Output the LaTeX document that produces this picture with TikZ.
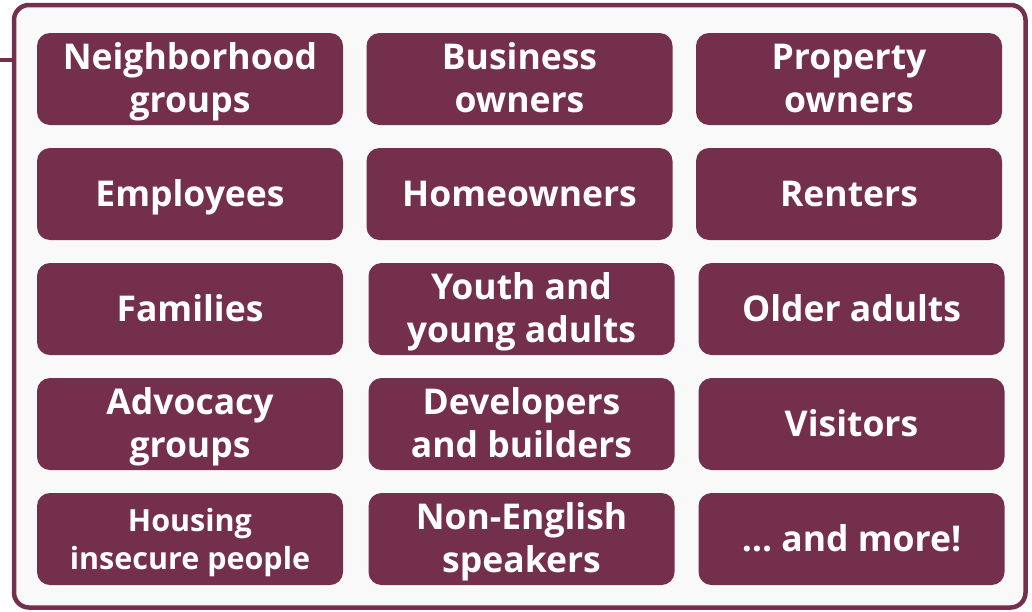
\documentclass[tikz,border=0pt]{standalone}
\usepackage{fontspec}
\setmainfont{Open Sans}
\definecolor{plum}{HTML}{732F4B}
\definecolor{panel}{HTML}{F9F9F9}
% centred lines, set a little lower inside the box
\newcommand\lift[1]{\raisebox{-3.5pt}[\height][\depth]{\begin{tabular}{@{}c@{}}#1\end{tabular}}}
\begin{document}
\begin{tikzpicture}[x=1pt,y=-1pt,
  group/.style={rectangle, rounded corners=13pt, fill=plum, text=white,
    minimum width=306pt, minimum height=92pt, inner sep=0pt,
    font=\bfseries\fontsize{35.5}{43}\selectfont},
  small/.style={font=\bfseries\fontsize{30.5}{38}\selectfont}]
\useasboundingbox[fill=white] (0,0) rectangle (1032,611);
% outer panel holding all groups
\node[rectangle, rounded corners=15pt, draw=plum, line width=4.5pt, fill=panel,
  minimum width=1011.5pt, minimum height=602.5pt, outer sep=0pt] (frame) at (519.75,306.25) {};
\coordinate (stub) at (0,60);
\draw[plum, line width=4.5pt] (stub) -- (stub -| frame.west);
% row 1
\node[group] (n1) at (190,79) {\lift{Neighborhood\\groups}};
\node[group] (n2) at (519.5,79) {\lift{Business\\owners}};
\node[group] (n3) at (849,79) {\lift{Property\\owners}};
% row 2
\node[group] (n4) at (190,194) {\lift{Employees}};
\node[group] (n5) at (519.5,194) {\lift{Homeowners}};
\node[group] (n6) at (849,194) {\lift{Renters}};
% row 3
\node[group] (n7) at (190,309) {\lift{Families}};
\node[group] (n8) at (521.5,309) {\lift{Youth and\\young adults}};
\node[group] (n9) at (851.5,309) {\lift{Older adults}};
% row 4
\node[group] (n10) at (190,424) {\lift{Advocacy\\groups}};
\node[group] (n11) at (521.5,424) {\lift{Developers\\and builders}};
\node[group] (n12) at (851.5,424) {\lift{Visitors}};
% row 5
\node[group, small] (n13) at (190,539) {\lift{Housing\\insecure people}};
\node[group] (n14) at (521.5,539) {\lift{Non-English\\speakers}};
\node[group] (n15) at (851.5,539) {\lift{… and more!}};
\end{tikzpicture}
\end{document}
